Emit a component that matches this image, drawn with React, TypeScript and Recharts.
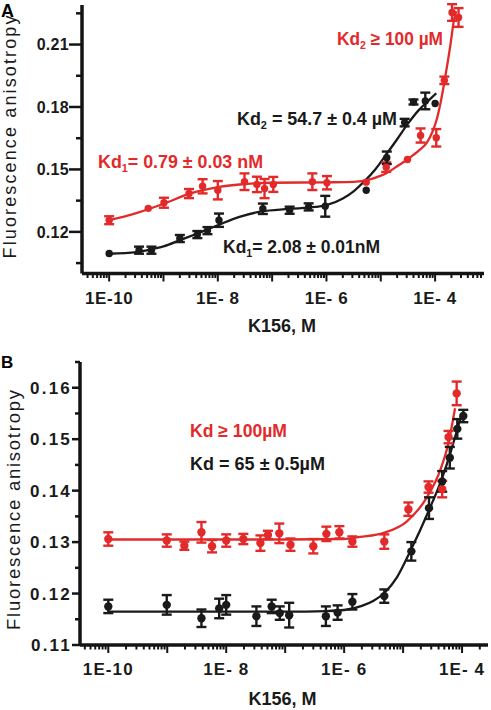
import React from 'react';
import { ComposedChart, Line, Scatter, XAxis, YAxis, ErrorBar } from 'recharts';

const FONT = '"Liberation Sans", Arial, Helvetica, sans-serif';
const RED = '#e32a2a';
const BLACK = '#1a1a1a';
const AXIS = '#141414';

// ---------- tick labels ----------
const xTickLabelValues = [1e-10, 1e-8, 1e-6, 1e-4];
const xTickLabels = ['1E-10', '1E- 8', '1E- 6', '1E- 4'];

const aYTickValues = [0.12, 0.15, 0.18, 0.21];
const aYTickLabels = ['0.12', '0.15', '0.18', '0.21'];
const aYMinorTicks = [0.105, 0.135, 0.165, 0.195, 0.225];

const bYTickValues = [0.11, 0.12, 0.13, 0.14, 0.15, 0.16];
const bYTickLabels = ['0.11', '0.12', '0.13', '0.14', '0.15', '0.16'];
const bYMinorTicks = [0.115, 0.125, 0.135, 0.145, 0.155, 0.165];

// ---------- panel A data ----------
const aRedX = [1e-10, 5.25e-10, 1.02e-9, 2.95e-9, 5.25e-9, 1e-8, 3.1e-8, 5.25e-8, 7.25e-8, 1.05e-7, 5.5e-7, 1.02e-6, 5.4e-6, 1.26e-5, 3.1e-5, 5.4e-5, 1.05e-4, 1.48e-4, 2.05e-4, 2.7e-4];
const aRedY = [0.1256, 0.1313, 0.134, 0.1384, 0.1419, 0.14, 0.1441, 0.1428, 0.1408, 0.1428, 0.1441, 0.1436, 0.1439, 0.1511, 0.1548, 0.1663, 0.1652, 0.1928, 0.2254, 0.223];
const aRedErr = [0.0019, 0, 0.0024, 0.0022, 0.0034, 0.0044, 0.004, 0.0037, 0.0046, 0.0036, 0.004, 0.0032, 0, 0.0023, 0, 0.0034, 0.0042, 0.0018, 0.004, 0.0045];

const aBlackX = [1e-10, 3.55e-10, 6.0e-10, 2.0e-9, 4.2e-9, 6.45e-9, 1.05e-8, 6.75e-8, 2.1e-7, 4.7e-7, 9.5e-7, 5.4e-6, 1.29e-5, 2.75e-5, 4.0e-5, 6.6e-5, 1.0e-4];
const aBlackY = [0.1096, 0.1112, 0.1112, 0.1168, 0.1187, 0.1206, 0.1256, 0.1311, 0.1304, 0.132, 0.1323, 0.14, 0.1556, 0.1725, 0.1824, 0.1829, 0.1817];
const aBlackErr = [0, 0.0017, 0.0017, 0.0017, 0.0017, 0.0017, 0.0032, 0.0025, 0.0017, 0.0017, 0.005, 0, 0.003, 0.0018, 0.0012, 0.004, 0];

const aRedFitX = [1e-10, 3.16e-10, 1e-9, 3.16e-9, 1e-8, 3.16e-8, 1e-7, 1e-6, 3.16e-6, 6.3e-6, 1e-5, 1.26e-5, 2e-5, 3.16e-5, 5e-5, 7.1e-5, 8.9e-5, 1.07e-4, 1.26e-4, 1.51e-4, 1.9e-4, 2.24e-4, 2.45e-4];
const aRedFitY = [0.1256, 0.129, 0.1335, 0.1385, 0.1415, 0.143, 0.1436, 0.1438, 0.144, 0.1452, 0.147, 0.1482, 0.1515, 0.155, 0.159, 0.163, 0.168, 0.174, 0.182, 0.1933, 0.2093, 0.2222, 0.226];

const aBlackFitX = [1e-10, 3.16e-10, 6.3e-10, 1e-9, 2e-9, 4e-9, 1e-8, 2.5e-8, 6.3e-8, 2e-7, 6.3e-7, 1e-6, 2e-6, 3.16e-6, 5e-6, 7.9e-6, 1.26e-5, 2e-5, 3.16e-5, 5e-5, 7.9e-5, 1.05e-4];
const aBlackFitY = [0.1095, 0.1103, 0.1118, 0.113, 0.116, 0.119, 0.1232, 0.1272, 0.1298, 0.131, 0.132, 0.1328, 0.136, 0.1395, 0.1443, 0.15, 0.1572, 0.1645, 0.172, 0.1785, 0.1835, 0.1866];

// ---------- panel B data ----------
const bRedX = [1e-10, 9.8e-10, 1.95e-9, 3.8e-9, 5.75e-9, 1e-8, 1.95e-8, 3.8e-8, 5.1e-8, 7.95e-8, 1.23e-7, 3.0e-7, 5.0e-7, 8.3e-7, 1.38e-6, 4.8e-6, 1.23e-5, 2.7e-5, 4.6e-5, 5.9e-5, 8.1e-5];
const bRedY = [0.1306, 0.1303, 0.1293, 0.1319, 0.1292, 0.1303, 0.1306, 0.1298, 0.1314, 0.1317, 0.1295, 0.1292, 0.1316, 0.1319, 0.1301, 0.1301, 0.1364, 0.1407, 0.1403, 0.1504, 0.1589];
const bRedErr = [0.0013, 0.0012, 0.0008, 0.002, 0.0012, 0.0012, 0.001, 0.0015, 0.0008, 0.0019, 0.0012, 0.0014, 0.0014, 0.0012, 0.001, 0.0014, 0.0013, 0.0011, 0.0016, 0.0012, 0.0023];

const bBlackX = [1e-10, 9.8e-10, 3.8e-9, 7.6e-9, 1e-8, 3.25e-8, 5.9e-8, 8.1e-8, 1.17e-7, 4.9e-7, 7.75e-7, 1.38e-6, 4.8e-6, 1.38e-5, 2.75e-5, 4.6e-5, 6.2e-5, 8.3e-5, 1.05e-4];
const bBlackY = [0.1175, 0.1178, 0.1152, 0.1171, 0.1178, 0.1156, 0.1175, 0.1162, 0.1158, 0.1156, 0.1163, 0.1184, 0.1195, 0.1282, 0.1366, 0.1418, 0.1464, 0.152, 0.1545];
const bBlackErr = [0.0013, 0.0019, 0.0017, 0.0019, 0.0019, 0.0019, 0.0013, 0.0013, 0.0024, 0.0019, 0.0014, 0.0015, 0.0013, 0.0018, 0.0021, 0.002, 0.0021, 0.0019, 0.0012];

const bRedFitX = [1e-10, 1e-8, 1e-7, 1e-6, 1.86e-6, 4.7e-6, 1.15e-5, 2.5e-5, 4.3e-5, 5.9e-5, 7.6e-5];
const bRedFitY = [0.1305, 0.1305, 0.1305, 0.1306, 0.131, 0.1318, 0.134, 0.1386, 0.1441, 0.1493, 0.156];

const bBlackFitX = [1e-10, 1e-8, 1e-7, 5e-7, 1e-6, 2e-6, 3.16e-6, 5e-6, 7.9e-6, 1.32e-5, 2.7e-5, 4.6e-5, 6.3e-5, 8.1e-5, 1.0e-4];
const bBlackFitY = [0.1165, 0.1165, 0.1165, 0.1166, 0.1168, 0.1176, 0.1186, 0.1203, 0.1232, 0.1282, 0.136, 0.1425, 0.1472, 0.1515, 0.1551];

// ---------- helpers ----------
type Pt = { x: number; y: number; err?: number };
const zip = (xs: number[], ys: number[], es?: number[]): Pt[] =>
  xs.map((x, i) => ({ x, y: ys[i], err: es ? es[i] : undefined }));

function logTicks(lo: number, hi: number): number[] {
  const out: number[] = [];
  for (let d = Math.floor(Math.log10(lo)); d <= Math.ceil(Math.log10(hi)); d++) {
    for (let m = 1; m < 10; m++) {
      const v = m * Math.pow(10, d);
      if (v >= lo && v <= hi) out.push(v);
    }
  }
  return out;
}

const near = (a: number, b: number) => Math.abs(Math.log10(a) - Math.log10(b)) < 1e-6;

const makeXTick = (fontSize: number, spacing: number) => (p: any) => {
  const v = p.payload.value;
  const e = Math.log10(v);
  const decade = Math.abs(e - Math.round(e)) < 1e-6;
  const idx = xTickLabelValues.findIndex((t) => near(t, v));
  return (
    <g>
      <line x1={p.x} x2={p.x} y1={p.y} y2={p.y + (decade ? 8 : 4.5)} stroke={AXIS} strokeWidth={2} />
      {idx >= 0 && (
        <text x={p.x} y={p.y + 30} textAnchor="middle" fontFamily={FONT} fontWeight={700} fontSize={fontSize} letterSpacing={spacing} fill={BLACK}>
          {xTickLabels[idx]}
        </text>
      )}
    </g>
  );
};

const makeYTick = (vals: number[], labels: string[], majorLen: number, minorLen: number, fontSize: number, spacing: number) => (p: any) => {
  const v = p.payload.value;
  const idx = vals.findIndex((t) => Math.abs(t - v) < 1e-9);
  const len = idx >= 0 ? majorLen : minorLen;
  return (
    <g>
      <line x1={p.x - len} x2={p.x} y1={p.y} y2={p.y} stroke={AXIS} strokeWidth={2.5} />
      {idx >= 0 && (
        <text x={p.x - majorLen} y={p.y} dy="0.36em" textAnchor="end" fontFamily={FONT} fontWeight={700} fontSize={fontSize} letterSpacing={spacing} fill={BLACK}>
          {labels[idx]}
        </text>
      )}
    </g>
  );
};

type Series = { key: string; color: string; fit: Pt[]; pts: Pt[] };

function Panel(props: {
  height: number;
  margin: { top: number; right: number; bottom: number; left: number };
  yWidth: number;
  xHeight: number;
  xDomain: [number, number];
  yDomain: [number, number];
  yTicks: number[];
  yTick: any;
  xTick: any;
  series: Series[];
  dotR: number;
}) {
  const { height, margin, yWidth, xHeight, xDomain, yDomain, yTicks, yTick, xTick, series, dotR } = props;
  const xTicks = logTicks(xDomain[0], xDomain[1]);
  return (
    <ComposedChart width={491} height={height} margin={margin}>
      <XAxis
        dataKey="x"
        type="number"
        scale="log"
        domain={xDomain}
        allowDataOverflow
        ticks={xTicks}
        interval={0}
        tickLine={false}
        tickSize={0}
        tickMargin={0}
        axisLine={{ stroke: AXIS, strokeWidth: 3.5 }}
        height={xHeight}
        tick={xTick}
      />
      <YAxis
        dataKey="y"
        type="number"
        domain={yDomain}
        allowDataOverflow
        ticks={yTicks}
        interval={0}
        tickLine={false}
        tickSize={0}
        tickMargin={0}
        axisLine={{ stroke: AXIS, strokeWidth: 3.5 }}
        width={yWidth}
        tick={yTick}
      />
      {series.map((s) => (
        <Line
          key={'fit-' + s.key}
          data={s.fit}
          dataKey="y"
          type="monotone"
          stroke={s.color}
          strokeWidth={2.3}
          dot={false}
          activeDot={false}
          isAnimationActive={false}
        />
      ))}
      {series.map((s) => (
        <Scatter
          key={'pts-' + s.key}
          data={s.pts}
          dataKey="y"
          fill={s.color}
          isAnimationActive={false}
          shape={(p: any) => <circle cx={p.cx} cy={p.cy} r={dotR} fill={s.color} />}
        >
          <ErrorBar dataKey="err" direction="y" width={5} stroke={s.color} strokeWidth={2.4} />
        </Scatter>
      ))}
    </ComposedChart>
  );
}

const txt = { fontFamily: FONT, fontWeight: 700 as const, fontSize: 18 };

export default function App() {
  const seriesA: Series[] = [
    { key: 'aRed', color: RED, fit: zip(aRedFitX, aRedFitY), pts: zip(aRedX, aRedY, aRedErr) },
    { key: 'aBlack', color: BLACK, fit: zip(aBlackFitX, aBlackFitY), pts: zip(aBlackX, aBlackY, aBlackErr) },
  ];
  const seriesB: Series[] = [
    { key: 'bRed', color: RED, fit: zip(bRedFitX, bRedFitY), pts: zip(bRedX, bRedY, bRedErr) },
    { key: 'bBlack', color: BLACK, fit: zip(bBlackFitX, bBlackFitY), pts: zip(bBlackX, bBlackY, bBlackErr) },
  ];
  return (
    <div style={{ position: 'absolute', left: 0, top: 0, width: 491, height: 710, background: '#fff' }}>
      <div style={{ position: 'absolute', left: 0, top: 0 }}>
        <Panel
          height={340}
          margin={{ top: 5, right: 7, bottom: 0, left: 0 }}
          yWidth={82}
          xHeight={66.5}
          xDomain={[Math.pow(10, -10.5), Math.pow(10, -3.1)]}
          yDomain={[0.1, 0.229]}
          yTicks={[...aYTickValues, ...aYMinorTicks]}
          yTick={makeYTick(aYTickValues, aYTickLabels, 13, 6, 16, 0.3)}
          xTick={makeXTick(17, 0.6)}
          series={seriesA}
          dotR={3.7}
        />
      </div>
      <div style={{ position: 'absolute', left: 0, top: 340 }}>
        <Panel
          height={370}
          margin={{ top: 22, right: 3, bottom: 0, left: 0 }}
          yWidth={80}
          xHeight={65}
          xDomain={[Math.pow(10, -10.48), Math.pow(10, -3.56)]}
          yDomain={[0.11, 0.165]}
          yTicks={[...bYTickValues, ...bYMinorTicks]}
          yTick={makeYTick(bYTickValues, bYTickLabels, 8, 5, 17, 2.2)}
          xTick={makeXTick(17, 1.1)}
          series={seriesB}
          dotR={4.2}
        />
      </div>
      <svg width={491} height={710} style={{ position: 'absolute', left: 0, top: 0, pointerEvents: 'none' }}>
        {/* panel letters */}
        <text x={1} y={16.5} {...txt}>A</text>
        <text x={1} y={368} {...txt} fontSize={17}>B</text>
        {/* axis titles */}
        <text transform="translate(16,137) rotate(-90)" textAnchor="middle" fontFamily={FONT} fontSize={18} fill="#1a1a1a" textLength={243} lengthAdjust="spacing">
          Fluorescence anisotropy
        </text>
        <text transform="translate(20,510) rotate(-90)" textAnchor="middle" fontFamily={FONT} fontSize={18.5} fill="#1a1a1a" textLength={240} lengthAdjust="spacing">
          Fluorescence anisotropy
        </text>
        <text x={282} y={332} textAnchor="middle" {...txt} fill={BLACK}>K156, M</text>
        <text x={282.5} y={705} textAnchor="middle" {...txt} fill={BLACK}>K156, M</text>
        {/* panel A annotations */}
        <text x={337} y={45} {...txt} fill={RED} textLength={106} lengthAdjust="spacingAndGlyphs">
          Kd<tspan fontSize={11} dy={4}>2</tspan><tspan dy={-4}> ≥ 100 µM</tspan>
        </text>
        <text x={237} y={125} {...txt} fill={BLACK} textLength={160} lengthAdjust="spacingAndGlyphs">
          Kd<tspan fontSize={11} dy={4}>2</tspan><tspan dy={-4}> = 54.7 ± 0.4 µM</tspan>
        </text>
        <text x={98} y={168} {...txt} fill={RED} textLength={165} lengthAdjust="spacingAndGlyphs">
          Kd<tspan fontSize={11} dy={4}>1</tspan><tspan dy={-4}>= 0.79 ± 0.03 nM</tspan>
        </text>
        <text x={223} y={253} {...txt} fill={BLACK} textLength={157} lengthAdjust="spacingAndGlyphs">
          Kd<tspan fontSize={11} dy={4}>1</tspan><tspan dy={-4}>= 2.08 ± 0.01nM</tspan>
        </text>
        {/* panel B annotations */}
        <text x={190} y={437} {...txt} fill={RED} textLength={97} lengthAdjust="spacingAndGlyphs">
          Kd ≥ 100µM
        </text>
        <text x={190} y={470} {...txt} fill={BLACK} textLength={135} lengthAdjust="spacingAndGlyphs">
          Kd = 65 ± 0.5µM
        </text>
      </svg>
    </div>
  );
}
